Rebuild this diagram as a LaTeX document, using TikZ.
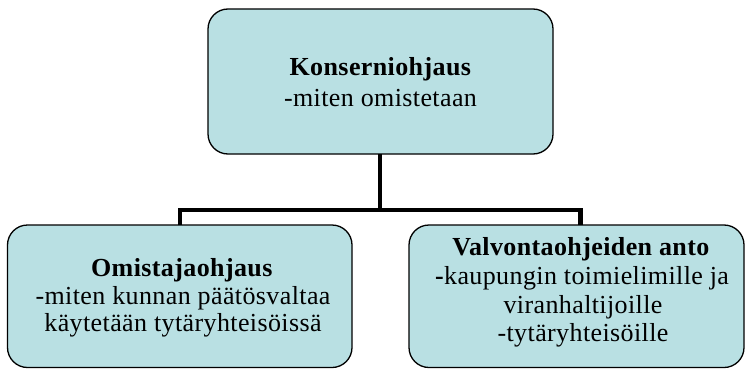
\documentclass[tikz,border=0pt]{standalone}
\usepackage{fontspec}
\setmainfont{Liberation Serif}[LetterSpace=1.5]
\definecolor{boxfill}{RGB}{185,224,227}
\tikzset{
  orgbox/.style={draw=black, line width=1.3pt, fill=boxfill, rounded corners=20pt},
  boxline/.style={anchor=base, inner sep=0pt, font=\fontsize{26}{28}\selectfont},
  conn/.style={line width=4.8pt}
}
\begin{document}
\begin{tikzpicture}[x=1pt,y=1pt]
\useasboundingbox (0,0) rectangle (746,-369);
% boxes
\draw[orgbox] (208,-9) rectangle (553,-154);
\draw[orgbox] (7.5,-225) rectangle (352,-367.5);
\draw[orgbox] (409,-225) rectangle (744,-367.5);
\coordinate (topB) at (380,-154);
\coordinate (leftT) at (180,-225);
\coordinate (rightT) at (580.5,-225);
\coordinate (jl) at (180,-210);
\coordinate (jr) at (580.5,-210);
\coordinate (jm) at (380,-210);
% connectors
\draw[conn] (topB) -- (jm);
\draw[conn, line join=miter] (leftT) -- (jl) -- (jr) -- (rightT);
% texts
\node[boxline] (t1) at (380.5,-75) {\textbf{Konserniohjaus}};
\node[boxline] (t2) at (380.5,-106) {-miten omistetaan};
\node[boxline] (l1) at (182,-276.7) {\textbf{Omistajaohjaus}};
\node[boxline] (l2) at (183,-304.3) {-miten kunnan päätösvaltaa};
\node[boxline] (l3) at (183,-331.7) {käytetään tytäryhteisöissä};
\node[boxline] (r1) at (581,-255) {\textbf{Valvontaohjeiden anto}};
\node[boxline] (r2) at (582,-284) {\textbf{-}kaupungin toimielimille ja};
\node[boxline] (r3) at (583,-313) {viranhaltijoille};
\node[boxline] (r4) at (583,-341.5) {-tytäryhteisöille};
\end{tikzpicture}
\end{document}
